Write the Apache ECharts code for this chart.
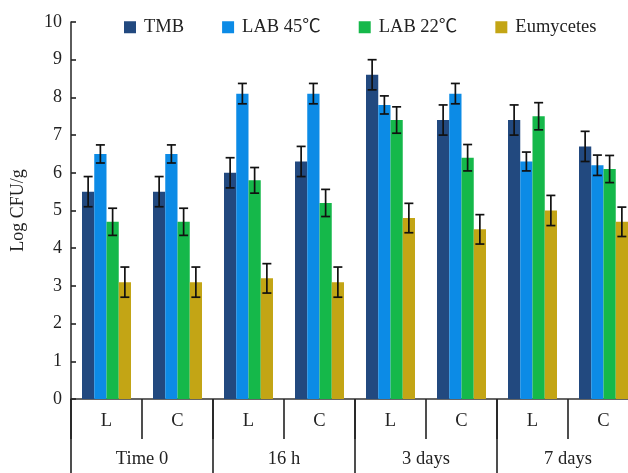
<!DOCTYPE html>
<html><head><meta charset="utf-8">
<script src="https://cdn.jsdelivr.net/npm/echarts@6/dist/echarts.min.js"></script>
<style>html,body{margin:0;padding:0;background:#fff}#c{width:628px;height:473px}</style>
</head><body><div id="c"></div>
<script>
var subCats = ['L','C','L','C','L','C','L','C'];
var groups = ['Time 0','16 h','3 days','7 days'];
var seriesNames = ['TMB','LAB 45\u2103','LAB 22\u2103','Eumycetes'];
var colors = ['#22497f','#0c8be6','#15b84a','#c3a515'];
var tmb   = [5.5, 5.5, 6.0, 6.3, 8.6, 7.4, 7.4, 6.7];
var lab45 = [6.5, 6.5, 8.1, 8.1, 7.8, 8.1, 6.3, 6.2];
var lab22 = [4.7, 4.7, 5.8, 5.2, 7.4, 6.4, 7.5, 6.1];
var eumy  = [3.1, 3.1, 3.2, 3.1, 4.8, 4.5, 5.0, 4.7];
var tmbErr   = [0.4, 0.4, 0.4, 0.4, 0.4, 0.4, 0.4, 0.4];
var lab45Err = [0.24, 0.24, 0.27, 0.27, 0.24, 0.27, 0.25, 0.27];
var lab22Err = [0.36, 0.36, 0.34, 0.36, 0.35, 0.35, 0.36, 0.36];
var eumyErr  = [0.4, 0.4, 0.39, 0.4, 0.39, 0.39, 0.4, 0.39];
var yTicks = [0,1,2,3,4,5,6,7,8,9,10];

var values = [tmb, lab45, lab22, eumy];
var errs = [tmbErr, lab45Err, lab22Err, eumyErr];
var catGap = 0.31;
var errData = [];
for (var s = 0; s < 4; s++) {
  for (var i = 0; i < subCats.length; i++) {
    errData.push([i, s, values[s][i] - errs[s][i], values[s][i] + errs[s][i]]);
  }
}
var font = '"Liberation Serif", "Noto Sans CJK SC", serif';
var chart = echarts.init(document.getElementById('c'), null, {renderer:'canvas'});
var series = seriesNames.map(function(n, s){
  return {name:n, type:'bar', data: values[s], barGap: 0, barCategoryGap: (catGap*100)+'%',
    itemStyle:{color: colors[s]}, xAxisIndex:0, yAxisIndex:0};
});
series.push({
  type:'custom', data: errData, xAxisIndex:0, yAxisIndex:0, z: 10,
  encode:{x:0, y:[2,3]},
  renderItem: function(params, api){
    var ci = api.value(0), si = api.value(1);
    var lo = api.coord([ci, api.value(2)]);
    var hi = api.coord([ci, api.value(3)]);
    var cw = api.size([1,0])[0];
    var bw = cw*(1-catGap)/4;
    var x = lo[0] + (si - 1.5)*bw;
    var cap = 4.5;
    var st = {stroke:'#111', lineWidth:1.7};
    return {type:'group', children:[
      {type:'line', shape:{x1:x, y1:lo[1], x2:x, y2:hi[1]}, style:st},
      {type:'line', shape:{x1:x-cap, y1:lo[1], x2:x+cap, y2:lo[1]}, style:st},
      {type:'line', shape:{x1:x-cap, y1:hi[1], x2:x+cap, y2:hi[1]}, style:st}
    ]};
  }
});
chart.setOption({
  animation:false,
  legend:{data: seriesNames, top: 13, left: 119, itemWidth: 12, itemHeight: 12, itemGap: 38, icon:'rect',
    textStyle:{fontFamily: font, fontSize: 18.5, color:'#222', padding:[0,0,0,3]}},
  grid:{left:71, top:22, bottom:74, width:568, containLabel:false, outerBoundsMode:'none'},
  xAxis:[{
    type:'category', data: subCats, position:'bottom',
    axisLine:{show:true, lineStyle:{color:'#333', width:1.6}},
    axisTick:{show:true, interval:0, length:40, lineStyle:{color:'#222', width:1.6}},
    axisLabel:{interval:0, margin:13, fontFamily:font, fontSize:18.5, color:'#222'}
  },{
    type:'category', data: groups, position:'bottom',
    axisLine:{show:false},
    axisTick:{show:true, interval:0, length:74, lineStyle:{color:'#222', width:1.6}},
    axisLabel:{interval:0, margin:51, fontFamily:font, fontSize:18.5, color:'#222'}
  }],
  yAxis:{type:'value', min: yTicks[0], max: yTicks[yTicks.length-1], interval:1,
    name:'Log CFU/g', nameLocation:'middle', nameRotate:90, nameGap:44,
    nameTextStyle:{fontFamily:font, fontSize:18, color:'#222'},
    axisLine:{show:true, lineStyle:{color:'#333', width:1.6}},
    axisTick:{show:true, inside:true, length:5, lineStyle:{color:'#222', width:1.6}},
    axisLabel:{margin:9, fontFamily:font, fontSize:18, color:'#222'},
    splitLine:{show:false}
  },
  series: series
});
</script></body></html>
